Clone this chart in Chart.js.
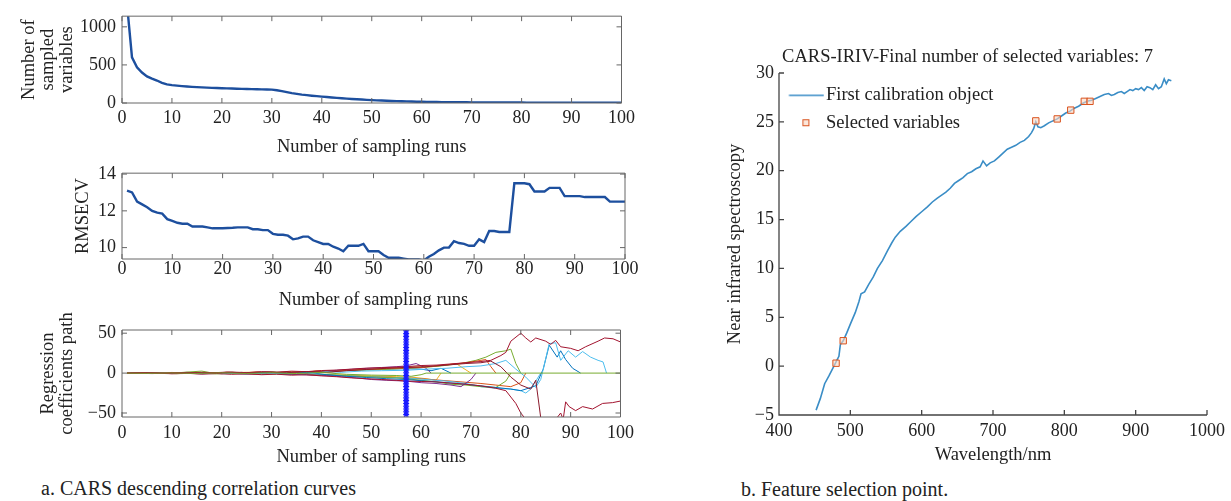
<!DOCTYPE html>
<html>
<head>
<meta charset="utf-8">
<script src="https://cdn.jsdelivr.net/npm/chart.js@4.4.0/dist/chart.umd.min.js"></script>
<style>
body { margin: 0; background: #fff; width: 1231px; height: 501px; position: relative; overflow: hidden; font-family: 'Liberation Serif', serif; color: #222; }
canvas { position: absolute; }
.cap { position: absolute; font-size: 20px; line-height: 24px; white-space: nowrap; }
</style>
</head>
<body>
<canvas id="varsChart" width="640" height="157" style="left:0;top:0"></canvas>
<canvas id="rmsecvChart" width="640" height="153" style="left:0;top:157px"></canvas>
<canvas id="coefChart" width="640" height="157" style="left:0;top:310px"></canvas>
<canvas id="specChart" width="531" height="465" style="left:700px;top:0"></canvas>
<div class="cap" style="left:41px;top:476px">a. CARS descending correlation curves</div>
<div class="cap" style="left:741px;top:477px">b. Feature selection point.</div>
<script>
// ---- data ----
const runTicks = [0, 10, 20, 30, 40, 50, 60, 70, 80, 90, 100];
const varTicks = [0, 500, 1000];
const rmsecvTicks = [10, 12, 14];
const coefTicks = [-50, 0, 50];

// runs 1..100
const sampledVars = [
    1300, 600, 470, 400, 350, 320, 295, 265, 245, 235,
    228, 222, 217, 212, 208, 205, 202, 199, 196, 194,
    192, 190, 188, 186, 184, 182, 180, 179, 178, 176,
    168, 155, 142, 130, 120, 110, 103, 96, 90, 84,
    78, 72, 67, 62, 57, 53, 49, 45, 41, 38,
    35, 32, 29, 27, 25, 23, 21, 19, 17, 16,
    15, 14, 13, 12, 11, 10, 10, 9, 9, 8,
    8, 7, 7, 7, 7, 6, 6, 6, 6, 6,
    5, 5, 5, 5, 5, 5, 5, 4, 4, 4,
    4, 4, 4, 4, 4, 3, 3, 3, 3, 3
];

const rmsecv = [
    13.1, 13.0, 12.5, 12.35, 12.2, 12.0, 11.9, 11.85, 11.55, 11.45,
    11.35, 11.3, 11.3, 11.15, 11.15, 11.15, 11.1, 11.05, 11.05, 11.05,
    11.07, 11.08, 11.1, 11.1, 11.1, 11.0, 11.0, 10.95, 10.95, 10.75,
    10.7, 10.7, 10.65, 10.45, 10.5, 10.6, 10.6, 10.4, 10.3, 10.2,
    10.2, 10.05, 9.95, 9.8, 10.1, 10.1, 10.1, 10.2, 9.8, 9.8,
    9.8, 9.6, 9.45, 9.45, 9.45, 9.4, 9.35, 9.35, 9.35, 9.3,
    9.5, 9.65, 9.85, 10.0, 10.0, 10.35, 10.25, 10.2, 10.1, 10.1,
    10.45, 10.3, 10.9, 10.9, 10.85, 10.85, 10.85, 13.5, 13.5, 13.5,
    13.45, 13.05, 13.05, 13.05, 13.25, 13.25, 13.25, 12.8, 12.8, 12.8,
    12.8, 12.75, 12.75, 12.75, 12.75, 12.75, 12.5, 12.5, 12.5, 12.5
];

const optimalRun = 57;
const optimalMarks = [-52, -48.5, -45, -41.5, -38, -34.5, -31, -27.5, -24, -20.5, -17, -13.5, -10, -6.5, -3, 0.5,
    4, 7.5, 11, 14.5, 18, 21.5, 25, 28.5, 32, 35.5, 39, 42.5, 46, 49.5, 53];

// regression coefficient paths: [run, coefficient]
const pathZero = [[1,0],[5,-0.2],[10,0.2],[15,-0.3],[20,0.3],[25,-0.4],[30,0.4],[35,-0.6],[40,0.8],[45,-1.5],[50,-2.5],[55,-3],[58,-4],[60,-2],[61,0],[100,0]];
const pathA = [[1,0],[4,0.5],[7,-0.4],[10,0.8],[13,0.2],[16,1],[19,0.4],[22,1.3],[25,0.6],[28,1.8],[31,1.1],[34,2.4],[37,1.8],[40,3.2],[43,3.8],[46,5],[49,6.2],[52,6.8],[55,7.5],[57,8],[60,9.5],[63,10],[66,11.5],[69,13],[72,14.5],[74,16],[76,22],[77,26],[78,40],[80,50],[81,44],[82,39],[83,44],[85,40],[86,36],[87,41],[88,33],[90,31],[91.5,28],[93,33],[95.5,40],[96.8,44],[98.5,43],[100,39]];
const pathB = [[1,0],[4,-0.4],[7,0.3],[10,-0.9],[13,-0.3],[16,-1.2],[19,-0.5],[22,-1.5],[25,-0.8],[28,-2],[31,-1.4],[34,-2.6],[37,-2],[40,-3.5],[43,-4.5],[46,-6],[49,-7],[52,-8],[55,-9],[57,-10],[60,-10.5],[63,-11],[66,-12.5],[69,-14],[72,-16],[75,-19],[77,-22],[78,-30],[79,-38],[80,-50],[81,-58],[83,-62],[85,-60],[87,-58],[88,-50],[88.5,-58],[89,-36],[89.7,-42],[91,-47],[92.4,-42],[94.4,-45],[96.4,-38],[98.4,-37],[100,-35]];
const pathC = [[1,0],[5,0.6],[9,-0.2],[13,0.9],[17,0.1],[21,1.2],[25,0.3],[29,1.5],[33,0.5],[37,2],[41,1],[45,3],[49,4.5],[53,6],[57,7],[61,8],[65,10],[69,12],[72,13],[74,15],[76,8],[78,-5],[80,-15],[82,-20],[83,-9],[84,-56],[85,-60]];
const pathD = [[1,0],[5,-0.3],[9,0.4],[13,-0.5],[17,0.3],[21,-0.8],[25,0.2],[29,-1],[33,0.4],[37,-1.5],[41,2],[44,1],[48,2.5],[52,3],[57,3.5],[61,5],[65,6],[69,8],[72,9],[75,12],[77,16],[79,5],[81,-5],[83,-18],[84,-8],[85,18],[85.7,37],[87,38],[88,16],[89.5,28],[91,20],[92.4,27],[94,20],[95.5,16],[96.5,14],[97.2,0]];
const pathE = [[1,0],[5,0.2],[9,-0.6],[13,0.5],[17,-0.4],[21,0.7],[25,-0.9],[29,0.8],[33,-1.2],[37,0.9],[41,-2],[45,-4],[49,-5.5],[53,-7],[57,-8],[61,-10],[65,-12],[69,-14],[72,-16],[75,-18],[78,-20],[80,-22],[82,-18],[83,-16],[84.5,5],[85.7,35],[87.3,20],[88,28],[89,17],[90.4,6],[92,0]];
const pathF = [[1,0],[3,0.4],[6,-0.3],[9,0.6],[12,-0.2],[15,0.9],[18,-0.5],[21,1],[24,0],[27,1.4],[30,-0.4],[33,1.8],[36,0.5],[39,2.5],[42,1.5],[45,3.5],[48,4.5],[51,5],[54,6],[57,6.5],[60,7],[63,9],[66,11],[69,13],[71,15],[73,17],[74,8],[75,0]];
const pathG = [[1,0],[4,-0.5],[8,0.5],[12,-0.6],[16,0.7],[20,-0.8],[24,0.9],[28,-1],[32,1.2],[36,-1.5],[40,2],[44,4],[48,5.5],[52,7],[55,8],[57,9],[59,12],[61,6],[62,0]];
const pathH = [[1,0],[4,0.3],[8,-0.3],[12,0.8],[16,2.5],[18,0.3],[22,1],[26,-0.5],[30,1.5],[34,0],[38,2],[42,3],[46,3.5],[50,4],[54,5],[57,6],[60,7],[64,9],[68,12],[71,16],[73,20],[75,26],[77,28],[78,30],[79,12],[80,0]];
const pathI = [[1,0],[5,0.4],[10,-0.2],[15,0.6],[20,0.2],[25,1],[30,0.5],[35,1.4],[40,2.5],[45,3.5],[50,5],[54,6],[58,7.5],[62,8],[65,10],[67,12],[69,4],[70,0]];
const pathJ = [[1,0],[6,-0.6],[11,0.2],[16,-0.9],[21,-0.3],[26,-1.2],[31,-0.5],[36,-2],[41,-3],[44,-4.5],[47,-6],[50,-8],[53,-9],[57,-10],[60,-12],[63,-13],[66,-15],[68,-17],[70,-8],[71,0]];
const pathK = [[1,0],[3,-0.5],[7,0.3],[11,-0.7],[15,0.2],[19,-1],[23,0.4],[27,-1.2],[31,0.5],[35,-1.8],[39,-1],[43,-2.5],[47,-4],[51,-5],[55,-6],[57,-7],[60,-9],[63,-11],[66,-14],[69,-15],[72,-17],[75,-18],[77,-10],[78,0]];
const pathL = [[1,0],[4,0.5],[8,-0.5],[12,0.3],[16,-0.8],[20,0.5],[24,-1],[28,0.6],[32,-1.5],[36,0.8],[40,-2],[44,-3],[48,-4],[52,-5],[57,-6],[61,-8],[65,-10],[69,-13],[72,-17],[75,-19],[78,-20],[80,-22],[81,-25],[82,-20],[83,-10],[84,0]];
const pathM = [[1,0],[5,-0.2],[10,0.5],[15,-0.6],[20,0.2],[25,-1],[30,0],[35,-1.6],[40,-2.5],[45,-3.5],[50,-4.5],[55,-5.5],[57,-6],[60,-7],[64,-9],[68,-11],[72,-13],[75,-15],[78,-17],[80,-12],[81,0]];
const pathN = [[1,0],[5,0.3],[10,-0.4],[15,0.4],[20,-0.6],[25,0.3],[30,-1],[35,-0.3],[40,-1.8],[45,-2.5],[50,-3.5],[55,-4.5],[58,-5],[61,-7],[63,-9],[64,0]];
const pathO = [[1,0],[6,0.3],[12,-0.3],[18,0.6],[24,-0.2],[30,0.8],[36,0],[42,2],[47,4],[52,5],[57,5.5],[60,5],[62,3],[64,6],[66,0]];

const coefPaths = [pathZero, pathA, pathB, pathC, pathD, pathE, pathF, pathG, pathH, pathI, pathJ, pathK, pathL, pathM, pathN, pathO];
const pathColors = ['#77ac30', '#a2142f', '#a2142f', '#8b1a2c', '#4dbeee', '#0072bd', '#d95319', '#7e2f8e', '#77ac30',
    '#edb120', '#7e2f8e', '#77ac30', '#4dbeee', '#d95319', '#edb120', '#0072bd'];

const wavelengthTicks = [400, 500, 600, 700, 800, 900, 1000];
const spectrumTicks = [-5, 0, 5, 10, 15, 20, 25, 30];
const spectrum = [
    [452,-4.5],[458,-3.3],[464,-1.8],[470,-1.0],[477,0.0],[481,0.6],[484,1.0],[486,2.2],[490,2.6],[495,3.4],
    [500,4.3],[507,5.5],[512,6.6],[515,7.4],[520,7.6],[526,8.4],[532,9.1],[538,10.0],[545,10.8],[552,11.8],
    [558,12.6],[563,13.2],[570,13.8],[578,14.3],[585,14.8],[592,15.3],[600,15.8],[608,16.3],[615,16.8],[622,17.2],
    [628,17.5],[634,17.8],[640,18.2],[646,18.7],[652,19.0],[658,19.3],[664,19.7],[670,19.9],[676,20.2],[682,20.4],
    [686,21.0],[688,20.8],[691,20.5],[696,20.8],[702,21.0],[708,21.4],[714,21.8],[720,22.2],[726,22.4],[732,22.6],
    [738,22.9],[744,23.1],[750,23.5],[754,23.9],[757,24.3],[760,25.0],[763,24.5],[767,24.4],[772,24.6],[778,24.9],
    [784,25.1],[790,25.3],[796,25.6],[802,25.9],[808,26.1],[814,26.4],[820,26.6],[826,26.9],[832,27.1],[838,27.2],
    [844,27.4],[850,27.6],[856,27.8],[862,27.9],[866,27.7],[870,27.8],[875,28.0],[880,28.1],[884,27.9],[888,28.1],
    [892,28.3],[896,28.2],[900,28.4],[904,28.3],[908,28.5],[912,28.2],[916,28.6],[920,28.5],[924,28.3],[928,28.8],
    [932,28.4],[936,28.6],[940,29.4],[943,28.9],[946,29.3],[950,29.2]
];
const selectedVars = [[480,0.3],[490,2.6],[760,25.1],[790,25.3],[809,26.2],[828,27.1],[836,27.1]];

// ---- shared look ----
Chart.defaults.font.family = "'Liberation Serif', 'Times New Roman', serif";
Chart.defaults.font.size = 18;
Chart.defaults.font.lineHeight = 1.13;
Chart.defaults.color = '#222';
Chart.defaults.animation = false;

const plain = v => String(v).replace('-', '\u2212');

// matlab-style frame with inward ticks
const frame = {
    id: 'frame',
    afterDatasetsDraw(chart, args, o) {
        const { ctx, chartArea: a, scales: { x, y } } = chart;
        ctx.save();
        ctx.strokeStyle = o.color;
        ctx.lineWidth = o.width;
        ctx.beginPath();
        if (o.box) {
            ctx.rect(a.left, a.top, a.width, a.height);
        } else {
            ctx.moveTo(a.left, a.top);
            ctx.lineTo(a.left, a.bottom);
            ctx.lineTo(a.right, a.bottom);
        }
        x.ticks.forEach(t => {
            const p = x.getPixelForValue(t.value);
            ctx.moveTo(p, a.bottom); ctx.lineTo(p, a.bottom - o.len);
            if (o.box) { ctx.moveTo(p, a.top); ctx.lineTo(p, a.top + o.len); }
        });
        y.ticks.forEach(t => {
            const p = y.getPixelForValue(t.value);
            ctx.moveTo(a.left, p); ctx.lineTo(a.left + o.len, p);
            if (o.box) { ctx.moveTo(a.right, p); ctx.lineTo(a.right - o.len, p); }
        });
        ctx.stroke();
        ctx.restore();
    }
};

// keep a vertical legend inside the plot area, below its top edge
const legendInside = {
    id: 'legendInside',
    beforeDraw(chart, args, o) {
        const l = chart.legend;
        if (!l) return;
        const h = l.height;
        l.top = chart.chartArea.top + o.offset;
        l.bottom = l.top + h;
    }
};

function leftPanel(id, datasets, yMin, yMax, yTicks, yTitle, o) {
    return new Chart(document.getElementById(id), {
        type: 'line',
        data: { datasets },
        options: {
            responsive: false,
            layout: { padding: { left: 0, right: 15, top: o.top, bottom: 0 } },
            elements: { point: { radius: 0 }, line: { tension: 0 } },
            plugins: {
                legend: { display: false },
                tooltip: { enabled: false },
                frame: { box: true, len: 5, color: '#666', width: 1 }
            },
            scales: {
                x: {
                    type: 'linear', min: 0, max: 100,
                    afterBuildTicks: s => { s.ticks = runTicks.map(v => ({ value: v })); },
                    afterFit: s => { s.height = o.xh; },
                    grid: { display: false, drawTicks: false },
                    border: { display: false },
                    ticks: { padding: o.xpad, maxRotation: 0, autoSkip: false, callback: plain },
                    title: { display: true, text: 'Number of sampling runs', padding: { top: 0, bottom: 0 }, font: { size: 18.5, lineHeight: 1.1 } }
                },
                y: {
                    type: 'linear', min: yMin, max: yMax,
                    afterBuildTicks: s => { s.ticks = yTicks.map(v => ({ value: v })); },
                    afterFit: s => { s.width = 122; },
                    grid: { display: false, drawTicks: false },
                    border: { display: false },
                    ticks: { padding: 6, callback: plain },
                    title: { display: true, text: yTitle, padding: { top: o.tpad, bottom: 0 }, font: { size: 18.5, lineHeight: 1.03 } }
                }
            }
        },
        plugins: [frame]
    });
}

leftPanel('varsChart', [{
    data: sampledVars.map((v, i) => ({ x: i + 1, y: v })),
    borderColor: '#1d4f9e', borderWidth: 2.4
}], 0, 1140, varTicks, ['Number of', 'sampled', 'variables'], { top: 13, xh: 54, xpad: 5, tpad: 20 });

leftPanel('rmsecvChart', [{
    data: rmsecv.map((v, i) => ({ x: i + 1, y: v })),
    borderColor: '#1d4f9e', borderWidth: 2.4
}], 9.38, 14.05, rmsecvTicks, 'RMSECV', { top: 11, xh: 51, xpad: 0, tpad: 73.5 });

const coefSets = [{
    data: optimalMarks.map(v => ({ x: optimalRun, y: v })),
    showLine: false, pointStyle: 'star', pointRadius: 3, borderColor: '#1a1aff', borderWidth: 1.1
}].concat(coefPaths.map((p, i) => ({
    data: p.map(([x, y]) => ({ x, y })),
    borderColor: pathColors[i], borderWidth: 1
})));

leftPanel('coefChart', coefSets, -55, 54, coefTicks, ['Regression', 'coefficients path'], { top: 20, xh: 50, xpad: 6, tpad: 39 });

// legend glyphs (drawn at their own size, centred on the legend box)
const lineGlyph = document.createElement('canvas');
lineGlyph.width = 44; lineGlyph.height = 3;
(c => { c.strokeStyle = '#3a8dc6'; c.lineWidth = 1.6; c.beginPath(); c.moveTo(8.6, 1.5); c.lineTo(43.6, 1.5); c.stroke(); })(lineGlyph.getContext('2d'));
const boxGlyph = document.createElement('canvas');
boxGlyph.width = 16; boxGlyph.height = 9;
(c => { c.fillStyle = 'rgba(250,215,195,0.6)'; c.fillRect(8.6, 1.5, 6, 6); c.strokeStyle = '#d9531e'; c.lineWidth = 1; c.strokeRect(8.6, 1.5, 6, 6); })(boxGlyph.getContext('2d'));

new Chart(document.getElementById('specChart'), {
    type: 'line',
    data: {
        datasets: [{
            label: 'First calibration object',
            data: spectrum.map(([x, y]) => ({ x, y })),
            borderColor: '#3a8dc6', borderWidth: 1.6, pointRadius: 0, order: 1
        }, {
            label: 'Selected variables',
            data: selectedVars.map(([x, y]) => ({ x, y })),
            showLine: false, pointStyle: 'rect', pointRadius: 4.5,
            borderColor: '#d9531e', borderWidth: 1, backgroundColor: 'rgba(250,215,195,0.6)', order: 0
        }]
    },
    options: {
        responsive: false,
        layout: { padding: { left: 25, right: 21, top: 0, bottom: 0 } },
        elements: { line: { tension: 0 } },
        plugins: {
            tooltip: { enabled: false },
            title: {
                display: true, text: 'CARS-IRIV-Final number of selected variables: 7',
                color: '#222', font: { size: 18.5, weight: 'normal', lineHeight: 1.1 },
                padding: { top: 47, bottom: 5.65 }
            },
            legend: {
                position: 'chartArea', align: 'start',
                labels: {
                    usePointStyle: true, pointStyleWidth: 28.75, padding: 9,
                    color: '#222', font: { size: 18.5 },
                    generateLabels(chart) {
                        const items = Chart.defaults.plugins.legend.labels.generateLabels(chart);
                        items.sort((a, b) => a.datasetIndex - b.datasetIndex);
                        items.forEach(it => { it.pointStyle = it.datasetIndex === 0 ? lineGlyph : boxGlyph; });
                        return items;
                    }
                }
            },
            legendInside: { offset: 4 },
            frame: { box: false, len: 5, color: '#444', width: 1.3 }
        },
        scales: {
            x: {
                type: 'linear', min: 400, max: 1000,
                afterBuildTicks: s => { s.ticks = wavelengthTicks.map(v => ({ value: v })); },
                afterFit: s => { s.height = 50; },
                grid: { display: false, drawTicks: false },
                border: { display: false },
                ticks: { padding: 6, maxRotation: 0, autoSkip: false, callback: plain },
                title: { display: true, text: 'Wavelength/nm', padding: { top: 0, bottom: 0 }, font: { size: 18.5, lineHeight: 1.1 } }
            },
            y: {
                type: 'linear', min: -5, max: 30,
                afterBuildTicks: s => { s.ticks = spectrumTicks.map(v => ({ value: v })); },
                afterFit: s => { s.width = 54; },
                grid: { display: false, drawTicks: false },
                border: { display: false },
                ticks: { padding: 5, callback: plain },
                title: { display: true, text: 'Near infrared spectroscopy', padding: { top: 0, bottom: 0 }, font: { size: 18.5, lineHeight: 1.1 } }
            }
        }
    },
    plugins: [frame, legendInside]
});
</script>
</body>
</html>
